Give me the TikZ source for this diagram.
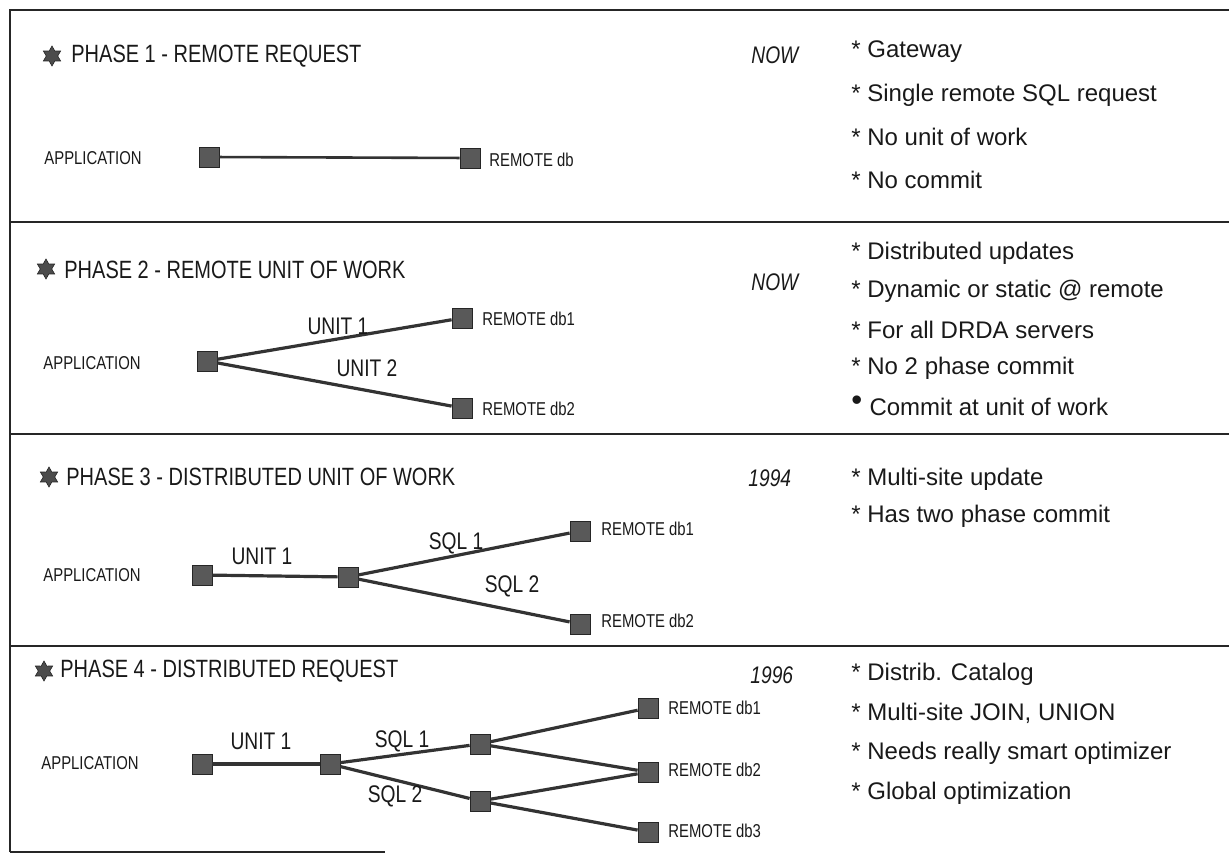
\documentclass[tikz,border=0pt]{standalone}
\usepackage{fontspec}
\setmainfont{Liberation Sans}
\newfontfamily\cond[FakeStretch=0.8]{Liberation Sans}
\usetikzlibrary{shapes.geometric}
\begin{document}
\begin{tikzpicture}[x=0.5pt,y=-0.5pt,
  sq/.style={rectangle, fill=black!65, draw=black!85, line width=0.4pt, minimum size=10pt, inner sep=0pt},
  link/.style={draw=black!80, line width=1.6pt},
  framerule/.style={draw=black!85, line width=1pt},
  phtitle/.style={anchor=west, font=\cond\fontsize{12.5}{14}\selectfont, inner sep=0pt, text=black!90},
  wlabel/.style={font=\cond\fontsize{12}{14}\selectfont, inner sep=0pt, text=black!90},
  dblabel/.style={anchor=west, font=\cond\fontsize{9.3}{11}\selectfont, inner sep=0pt, text=black!90},
  yearlbl/.style={anchor=west, font=\cond\itshape\fontsize{12}{14}\selectfont, inner sep=0pt, text=black!90},
  bulletitem/.style={anchor=west, font=\fontsize{12}{14}\selectfont, inner sep=0pt, text=black!90},
  starmark/.style={star, star points=6, star point ratio=1.75, fill=black!70, draw=black!85, line width=0.3pt, minimum size=10pt, inner sep=0pt}]

\useasboundingbox (0,0) rectangle (1229,856);

% frame
\draw[framerule] (10,852) -- (10,10) -- (1229,10);
\draw[framerule] (10,222) -- (1229,222);
\draw[framerule] (10,434) -- (1229,434);
\draw[framerule] (10,646) -- (1229,646);
\draw[framerule] (10,852) -- (385,852);

% ---------------- PHASE 1
\node[starmark] (s1) at (52,56) {};
\node[phtitle] (t1) at (71,56) {PHASE 1 - REMOTE REQUEST};
\node[yearlbl] (y1) at (751,55) {NOW};
\node[bulletitem] (b11) at (851,52) {* Gateway};
\node[bulletitem] (b12) at (851,95) {* Single remote SQL request};
\node[bulletitem] (b13) at (851,137) {* No unit of work};
\node[bulletitem] (b14) at (851,180) {* No commit};
\node[dblabel] (a1) at (44,158) {APPLICATION};
\node[sq] (p1app) at (209,157) {};
\node[sq] (p1db) at (470,158) {};
\node[dblabel] (p1dbl) at (489,160) {REMOTE db};
\draw[link, line width=1.3pt] (p1app) -- (p1db);

% ---------------- PHASE 2
\node[starmark] (s2) at (46,269) {};
\node[phtitle] (t2) at (64,270) {PHASE 2 - REMOTE UNIT OF WORK};
\node[yearlbl] (y2) at (751,282) {NOW};
\node[bulletitem] (b21) at (851,253) {* Distributed updates};
\node[bulletitem] (b22) at (851,291) {* Dynamic or static @ remote};
\node[bulletitem] (b23) at (851,330) {* For all DRDA servers};
\node[bulletitem] (b24) at (851,368) {* No 2 phase commit};
\node[bulletitem] (b25) at (851,406) {\raisebox{0.22em}{\scalebox{1.3}{•}}\hspace{0.3em}Commit at unit of work};
\node[dblabel] (a2) at (43,363) {APPLICATION};
\node[sq] (p2app) at (207,361) {};
\node[sq] (p2db1) at (462,318) {};
\node[sq] (p2db2) at (462,408) {};
\node[dblabel] (p2l1) at (482,319) {REMOTE db1};
\node[dblabel] (p2l2) at (482,409) {REMOTE db2};
\draw[link] (p2app) -- (p2db1);
\draw[link] (p2app) -- (p2db2);
\node[wlabel] (u21) at (338,326) {UNIT 1};
\node[wlabel] (u22) at (367,368) {UNIT 2};

% ---------------- PHASE 3
\node[starmark] (s3) at (49,477) {};
\node[phtitle] (t3) at (66,477) {PHASE 3 - DISTRIBUTED UNIT OF WORK};
\node[yearlbl] (y3) at (748,478) {1994};
\node[bulletitem] (b31) at (851,479) {* Multi-site update};
\node[bulletitem] (b32) at (851,516) {* Has two phase commit};
\node[dblabel] (a3) at (43,575) {APPLICATION};
\node[sq] (p3app) at (202,575) {};
\node[sq] (p3mid) at (348,577) {};
\node[sq] (p3db1) at (580,531) {};
\node[sq] (p3db2) at (580,624) {};
\node[dblabel] (p3l1) at (601,529) {REMOTE db1};
\node[dblabel] (p3l2) at (601,621) {REMOTE db2};
\draw[link] (p3app) -- (p3mid);
\draw[link] (p3mid) -- (p3db1);
\draw[link] (p3mid) -- (p3db2);
\node[wlabel] (u31) at (262,556) {UNIT 1};
\node[wlabel] (q31) at (456,543) {SQL 1};
\node[wlabel] (q32) at (512,586) {SQL 2};

% ---------------- PHASE 4
\node[starmark] (s4) at (44,671) {};
\node[phtitle] (t4) at (60,671) {PHASE 4 - DISTRIBUTED REQUEST};
\node[yearlbl] (y4) at (750,675) {1996};
\node[bulletitem] (b41) at (851,674) {* Distrib. Catalog};
\node[bulletitem] (b42) at (851,713) {* Multi-site JOIN, UNION};
\node[bulletitem] (b43) at (851,753) {* Needs really smart optimizer};
\node[bulletitem] (b44) at (851,793) {* Global optimization};
\node[dblabel] (a4) at (41,763) {APPLICATION};
\node[sq] (p4app) at (202,764) {};
\node[sq] (p4mid) at (330,764) {};
\node[sq] (p4up) at (480,744) {};
\node[sq] (p4lo) at (480,801) {};
\node[sq] (p4db1) at (648,708) {};
\node[sq] (p4db2) at (648,772) {};
\node[sq] (p4db3) at (648,832) {};
\node[dblabel] (p4l1) at (668,708) {REMOTE db1};
\node[dblabel] (p4l2) at (668,770) {REMOTE db2};
\node[dblabel] (p4l3) at (668,831) {REMOTE db3};
\draw[link] (p4app) -- (p4mid);
\draw[link] (p4mid) -- (p4up);
\draw[link] (p4mid) -- (p4lo);
\draw[link] (p4up) -- (p4db1);
\draw[link] (p4up) -- (p4db2);
\draw[link] (p4lo) -- (p4db2);
\draw[link] (p4lo) -- (p4db3);
\node[wlabel] (u41) at (261,741) {UNIT 1};
\node[wlabel] (q41) at (402,741) {SQL 1};
\node[wlabel] (q42) at (395,796) {SQL 2};

\end{tikzpicture}
\end{document}
